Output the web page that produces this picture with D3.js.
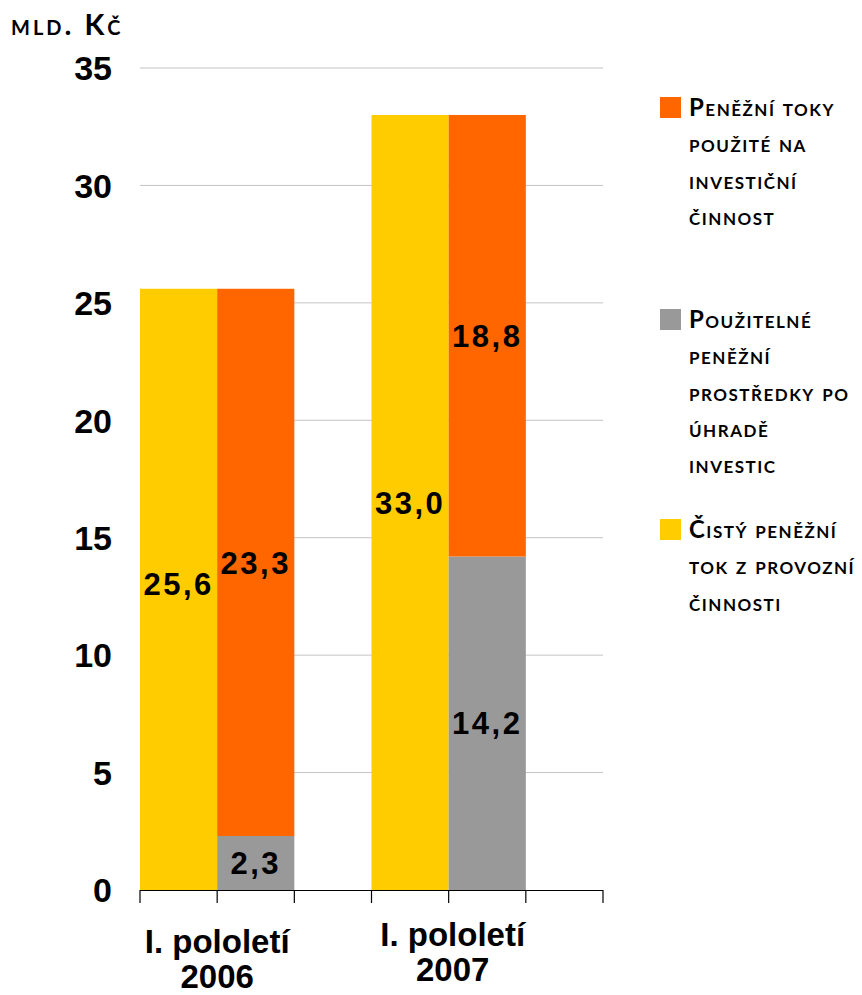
<!DOCTYPE html>
<html>
<head>
<meta charset="utf-8">
<script src="https://cdn.jsdelivr.net/npm/d3@7"></script>
<style>
  html, body { margin: 0; padding: 0; background: #fff; }
  svg { display: block; }
  .sc { font-family: Lato, "DejaVu Sans", sans-serif; font-variant: small-caps; font-weight: 700; fill: #000; }
  .num { font-family: "Liberation Sans", Arial, sans-serif; font-weight: 700; fill: #000; }
</style>
</head>
<body>
<svg id="chart" width="862" height="995"></svg>
<script>
// Periods on the x axis (two text lines each)
const periods = [["I. pololetí", "2006"], ["I. pololetí", "2007"]];
// Net cash flow from operations (left bar of each period)
const operating = [25.6, 33.0];
// Cash left after investments (bottom of the stacked bar)
const available = [2.3, 14.2];
// Cash used for investments (top of the stacked bar)
const investing = [23.3, 18.8];
const yTicks = [0, 5, 10, 15, 20, 25, 30, 35];
const unitLabel = "mld. Kč";

const colors = { operating: "#FFCC00", available: "#999999", investing: "#FF6600" };

const legendItems = [
  { color: colors.investing, lines: ["Peněžní toky", "použité na", "investiční", "činnost"] },
  { color: colors.available, lines: ["Použitelné", "peněžní", "prostředky po", "úhradě", "investic"] },
  { color: colors.operating, lines: ["Čistý peněžní", "tok z provozní", "činnosti"] }
];

const fmt = v => v.toFixed(1).replace(".", ",");

const svg = d3.select("#chart");

// Axis spans six equal slots: bars take slots 0-1 and 3-4, slots 2 and 5 stay empty
const x = d3.scaleLinear().domain([0, 6]).range([140, 603]);
const y = d3.scaleLinear().domain([0, 35]).range([890, 68]);

// Horizontal gridlines
svg.append("g")
  .selectAll("line")
  .data(yTicks.filter(t => t > 0))
  .join("line")
  .attr("x1", x(0)).attr("x2", x(6))
  .attr("y1", d => y(d)).attr("y2", d => y(d))
  .attr("stroke", "#c4c4c4").attr("stroke-width", 1);

// Y tick labels
svg.append("g")
  .selectAll("text")
  .data(yTicks)
  .join("text")
  .attr("class", "num")
  .attr("x", 112)
  .attr("y", d => y(d))
  .attr("dy", "0.36em")
  .attr("text-anchor", "end")
  .attr("font-size", 34)
  .text(d => d);

// Unit label
svg.append("text")
  .attr("class", "sc")
  .attr("x", 11).attr("y", 35)
  .attr("font-size", 29)
  .attr("letter-spacing", 3)
  .text(unitLabel);

const bars = svg.append("g");
periods.forEach((p, i) => {
  const s = i * 3;
  // Operating cash flow bar
  bars.append("rect")
    .attr("x", x(s)).attr("width", x(s + 1) - x(s))
    .attr("y", y(operating[i])).attr("height", y(0) - y(operating[i]))
    .attr("fill", colors.operating);
  // Stacked bar: available cash at the bottom, investments on top
  bars.append("rect")
    .attr("x", x(s + 1)).attr("width", x(s + 2) - x(s + 1))
    .attr("y", y(available[i])).attr("height", y(0) - y(available[i]))
    .attr("fill", colors.available);
  const top = available[i] + investing[i];
  bars.append("rect")
    .attr("x", x(s + 1)).attr("width", x(s + 2) - x(s + 1))
    .attr("y", y(top)).attr("height", y(available[i]) - y(top))
    .attr("fill", colors.investing);

  // Value labels
  const lbl = (cx, cy, v) => bars.append("text")
    .attr("class", "num")
    .attr("x", cx).attr("y", cy).attr("dy", "0.36em")
    .attr("text-anchor", "middle")
    .attr("font-size", 31)
    .attr("letter-spacing", 2.5)
    .text(fmt(v));
  lbl(x(s + 0.5), y(operating[i] / 2) - (i === 0 ? 6 : 0), operating[i]);
  lbl(x(s + 1.5), y(available[i] / 2), available[i]);
  lbl(x(s + 1.5), y(available[i] + investing[i] / 2), investing[i]);
});

// X axis baseline with slot ticks
const axis = svg.append("g");
axis.append("line")
  .attr("x1", x(0)).attr("x2", x(6))
  .attr("y1", y(0) + 0.5).attr("y2", y(0) + 0.5)
  .attr("stroke", "#000").attr("stroke-width", 1.2);
axis.selectAll("line.tick")
  .data(d3.range(0, 7))
  .join("line")
  .attr("class", "tick")
  .attr("x1", d => x(d)).attr("x2", d => x(d))
  .attr("y1", y(0)).attr("y2", y(0) + 13)
  .attr("stroke", "#000").attr("stroke-width", 1.2);

// Period labels
periods.forEach((p, i) => {
  const cx = x(i * 3 + 1) + (i === 1 ? 4 : 0);
  const base = i === 0 ? 953 : 946;
  p.forEach((line, j) => {
    svg.append("text")
      .attr("class", "num")
      .attr("x", cx).attr("y", base + j * 35)
      .attr("text-anchor", "middle")
      .attr("font-size", 33)
      .text(line);
  });
});

// Legend
const legendTops = [97, 309, 519];
legendItems.forEach((item, i) => {
  const g = svg.append("g").attr("transform", `translate(660,${legendTops[i]})`);
  g.append("rect").attr("width", 21).attr("height", 21).attr("fill", item.color);
  item.lines.forEach((line, j) => {
    g.append("text")
      .attr("class", "sc")
      .attr("x", 29).attr("y", 19 + j * 36.3)
      .attr("font-size", 24)
      .attr("letter-spacing", 1.5)
      .text(line);
  });
});
</script>
</body>
</html>
